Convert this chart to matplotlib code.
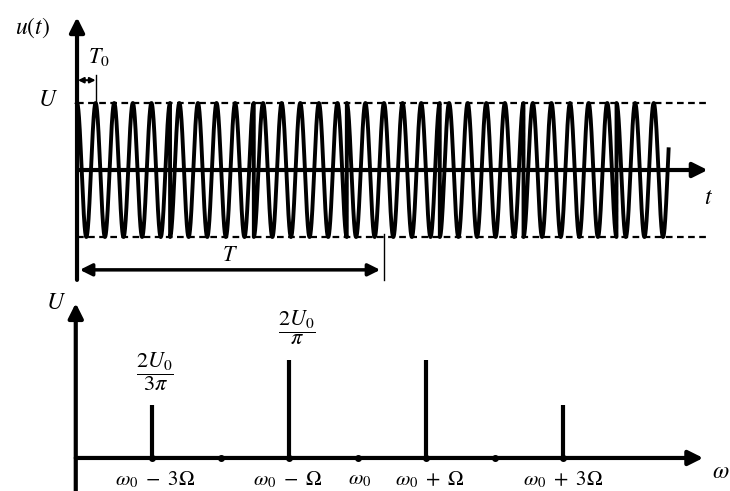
import numpy as np
import matplotlib.pyplot as plt

plt.rcParams['mathtext.fontset'] = 'stix'
plt.rcParams['font.family'] = 'STIXGeneral'

# top: carrier with phase flips (time in units of T0, amplitude in units of U)
U = 1.0
T0 = 1.0
t_end = 31.8
flip_times = [5.0, 9.5, 14.5, 19.5, 24.0, 29.0]
T_len = 16.3
axis_end = 33.9

# bottom: spectrum (frequency in units of Omega around w0)
k_lines = [-3, -1, 1, 3]
amps = [0.54, 1.0, 1.0, 0.54]
k_dots = [-3, -2, -1, 0, 1, 2, 3]
k_labels = [r'$\omega_0\ -\ 3\Omega$', r'$\omega_0\ -\ \Omega$', r'$\omega_0$',
            r'$\omega_0\ +\ \Omega$', r'$\omega_0\ +\ 3\Omega$']
k_label_pos = [-2.96, -1.02, 0.03, 1.05, 2.99]

fig = plt.figure(figsize=(7.3, 4.91), dpi=100)

# ---------- top panel ----------
ax = fig.add_axes([0, 206/491, 1, 285/491])
ax.set_xlim(-4.14, 35.1)
ax.set_ylim(-1.716, 2.537)
ax.axis('off')

t = np.linspace(0, t_end, 6000)
sgn = np.ones_like(t)
for tf in flip_times:
    sgn[t >= tf] *= -1
u = U * sgn * np.cos(2 * np.pi * t / T0)
ax.plot(t, u, color='k', lw=2.8)

for tf in flip_times:
    ax.plot([tf, tf], [-U, U], color='k', lw=1.5, ls=(0, (2, 2)))

ax.plot([0, axis_end], [U, U], color='k', lw=1.6, ls=(0, (3, 2)))
ax.plot([0, axis_end], [-U, -U], color='k', lw=1.6, ls=(0, (3, 2)))

arr = dict(arrowstyle='-|>', lw=3, color='k', mutation_scale=22, shrinkA=0, shrinkB=0)
ax.annotate('', xy=(0, 2.28), xytext=(0, -1.64), arrowprops=arr)
ax.annotate('', xy=(axis_end, 0), xytext=(0, 0), arrowprops=arr)

# T0 marker
ax.annotate('', xy=(0.05, 1.34), xytext=(1.0, 1.34),
            arrowprops=dict(arrowstyle='<|-|>', lw=1.5, color='k', mutation_scale=8,
                            shrinkA=0, shrinkB=0))
ax.plot([1.0, 1.0], [U, 1.42], color='k', lw=1)
ax.text(1.15, 1.68, r'$T_0$', fontsize=16, ha='center', va='center')

# T marker
ax.annotate('', xy=(0.15, -1.49), xytext=(T_len, -1.49),
            arrowprops=dict(arrowstyle='<|-|>', lw=2.5, color='k', mutation_scale=18,
                            shrinkA=0, shrinkB=0))
ax.plot([T_len + 0.2, T_len + 0.2], [-0.95, -1.64], color='k', lw=1)
ax.text(8.2, -1.28, r'$T$', fontsize=16, ha='center', va='center')

ax.text(-2.4, 2.12, r'$u(t)$', fontsize=17, ha='center', va='center')
ax.text(-1.55, 1.04, r'$U$', fontsize=17, ha='center', va='center')
ax.text(33.95, -0.42, r'$t$', fontsize=17, ha='center', va='center')

# ---------- bottom panel ----------
bx = fig.add_axes([0, 0, 1, 206/491])
bx.set_xlim(-5.226, 5.431)
bx.set_ylim(-0.337, 1.765)
bx.axis('off')

bx.annotate('', xy=(-4.12, 1.58), xytext=(-4.12, -0.337), arrowprops=arr)
bx.annotate('', xy=(5.04, 0), xytext=(-4.12, 0), arrowprops=arr)

bx.vlines(k_lines, 0, amps, color='k', lw=3)
bx.plot(k_dots, np.zeros(len(k_dots)), 'o', color='k', ms=4)

for k, lab in zip(k_label_pos, k_labels):
    bx.text(k, -0.22, lab, fontsize=15, ha='center', va='center')

bx.text(-2.97, 0.88, r'$\dfrac{2U_0}{3\pi}$', fontsize=16, ha='center', va='center')
bx.text(-0.89, 1.33, r'$\dfrac{2U_0}{\pi}$', fontsize=16, ha='center', va='center')

bx.text(-4.41, 1.58, r'$U$', fontsize=17, ha='center', va='center')
bx.text(5.3, -0.15, r'$\omega$', fontsize=17, ha='center', va='center')

fig.savefig('out.png', dpi=100)
